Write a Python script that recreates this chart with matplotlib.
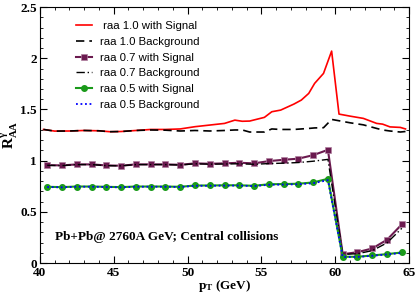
import numpy as np
import matplotlib
matplotlib.use("Agg")
import matplotlib.pyplot as plt
from matplotlib.ticker import MultipleLocator

# raa 1.0 curves (finer pT grid)
pt_fine = [40.25, 41.0, 42.0, 43.0, 44.0, 44.75, 45.5, 46.5, 47.5, 48.5, 49.5, 50.5,
           51.5, 52.5, 53.2, 53.7, 54.2, 55.2, 55.7, 56.3, 57.2, 57.7, 58.2, 58.6,
           59.2, 59.75, 60.25, 61.0, 61.9, 62.8, 63.2, 63.7, 64.4, 64.75]
raa10_sig = [1.305, 1.289, 1.29, 1.295, 1.292, 1.283, 1.285, 1.295, 1.305, 1.305, 1.31, 1.332,
             1.348, 1.364, 1.396, 1.385, 1.387, 1.423, 1.478, 1.494, 1.553, 1.592, 1.657, 1.755,
             1.852, 2.07, 1.455, 1.435, 1.413, 1.364, 1.357, 1.33, 1.325, 1.31]
raa10_bkg = [1.305, 1.289, 1.29, 1.295, 1.292, 1.283, 1.285, 1.295, 1.3, 1.298, 1.29, 1.295,
             1.29, 1.295, 1.3, 1.3, 1.28, 1.28, 1.31, 1.305, 1.305, 1.31, 1.315, 1.32,
             1.322, 1.403, 1.39, 1.37, 1.35, 1.315, 1.3, 1.29, 1.28, 1.285]

# raa 0.7 / 0.5 curves (1 GeV bins)
pt = [40.5, 41.5, 42.5, 43.5, 44.5, 45.5, 46.5, 47.5, 48.5, 49.5, 50.5, 51.5, 52.5,
      53.5, 54.5, 55.5, 56.5, 57.5, 58.5, 59.5, 60.5, 61.5, 62.5, 63.5, 64.5]
raa07_sig = [0.957, 0.954, 0.964, 0.964, 0.954, 0.951, 0.964, 0.964, 0.964, 0.96, 0.974, 0.97, 0.974,
             0.98, 0.974, 0.996, 1.009, 1.02, 1.054, 1.106, 0.087, 0.107, 0.143, 0.228, 0.378]
raa07_bkg = [0.955, 0.952, 0.962, 0.962, 0.952, 0.95, 0.962, 0.962, 0.962, 0.958, 0.97, 0.966, 0.968,
             0.97, 0.965, 0.972, 0.976, 0.982, 0.995, 1.013, 0.085, 0.092, 0.122, 0.198, 0.34]
raa05_sig = [0.745, 0.742, 0.748, 0.748, 0.745, 0.742, 0.748, 0.748, 0.748, 0.745, 0.758, 0.758, 0.76,
             0.76, 0.755, 0.77, 0.772, 0.775, 0.788, 0.823, 0.062, 0.062, 0.075, 0.088, 0.104]
raa05_bkg = [0.743, 0.74, 0.746, 0.746, 0.743, 0.74, 0.746, 0.746, 0.746, 0.743, 0.755, 0.755, 0.757,
             0.757, 0.752, 0.765, 0.767, 0.77, 0.78, 0.81, 0.06, 0.06, 0.072, 0.085, 0.1]

plt.rcParams["font.family"] = "Liberation Serif"
plt.rcParams["mathtext.fontset"] = "custom"
plt.rcParams["mathtext.bf"] = "Liberation Serif:bold"
plt.rcParams["mathtext.rm"] = "Liberation Serif"
plt.rcParams["mathtext.it"] = "Liberation Serif:italic"
fig = plt.figure(figsize=(4.15, 2.94), dpi=100)
ax = fig.add_axes([0.096, 0.105, 0.89, 0.871])

purple = "#6b1a4f"
green = "#1a9a1a"
ax.plot(pt_fine, raa10_sig, color="red", lw=1.2, label=" raa 1.0 with Signal")
ax.plot(pt_fine, raa10_bkg, color="black", lw=1.2, ls=(0, (5, 3)), label="raa 1.0 Background")
ax.plot(pt, raa07_sig, color=purple, lw=1.5, marker="s", ms=4, mfc=purple, mec="#b080a0", mew=0.5,
        label="raa 0.7 with Signal")
ax.plot(pt, raa07_bkg, color="black", lw=1.0, ls=(0, (6, 2, 1, 2)), label="raa 0.7 Background")
ax.plot(pt, raa05_sig, color=green, lw=1.5, marker="o", ms=4, label="raa 0.5 with Signal")
ax.plot(pt, raa05_bkg, color="blue", lw=1.3, ls=(0, (1, 1.5)), label="raa 0.5 Background")

ax.set_xlim(40, 65)
ax.set_ylim(0, 2.5)
ax.xaxis.set_minor_locator(MultipleLocator(1))
ax.yaxis.set_minor_locator(MultipleLocator(0.1))
ax.tick_params(which="both", direction="in", top=True, right=True, labelsize=9.5)
ax.tick_params(which="major", length=5)
ax.tick_params(which="minor", length=2.5)
ax.set_xticks([40, 45, 50, 55, 60, 65])
ax.set_xticklabels(["40", "45", "50", "55", "60", "65"], fontweight="bold")
ax.set_yticks([0, 0.5, 1, 1.5, 2, 2.5])
ax.set_yticklabels(["0", "0.5", "1", "1.5", "2", "2.5"], fontweight="bold")
ax.tick_params(axis="x", pad=3)
ax.tick_params(axis="y", pad=2)

ax.set_xlabel(r"$\mathbf{p_T}$ (GeV)", fontsize=9.5, fontweight="bold", labelpad=-1)
ax.set_ylabel(r"$\mathbf{R^{\gamma}_{AA}}$", fontsize=11, fontweight="bold", labelpad=0)

ax.text(0.04, 0.09, "Pb+Pb@ 2760A GeV; Central collisions", transform=ax.transAxes,
        fontsize=9.5, fontweight="bold")

ax.legend(loc="upper left", bbox_to_anchor=(0.07, 0.985), frameon=False,
          prop={"family": "Liberation Sans", "size": 8.2}, handlelength=1.4,
          labelspacing=0.5, handletextpad=0.7)

fig.savefig("out.png", dpi=100)
